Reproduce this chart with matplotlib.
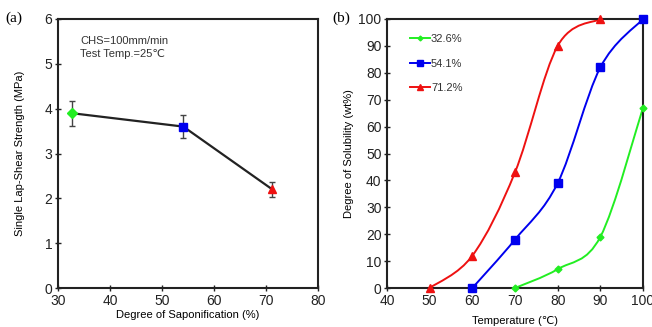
import numpy as np
import matplotlib
matplotlib.use("Agg")
import matplotlib.pyplot as plt
from matplotlib.path import Path
from matplotlib.patches import PathPatch
from matplotlib.lines import Line2D

plt.rcParams['font.family'] = ['Liberation Sans', 'DejaVu Sans']

# (a) lap-shear strength vs degree of saponification
sap = [32.6, 54.1, 71.2]
strength = [3.9, 3.6, 2.2]
strength_err = [0.28, 0.26, 0.16]
point_colors = ['#22ee22', '#0000ee', '#ee1111']
point_markers = ['D', 's', '^']

# (b) solubility vs temperature
labels = ['32.6%', '54.1%', '71.2%']
temps = [[70, 80, 90, 100],
         [60, 70, 80, 90, 100],
         [50, 60, 70, 80, 90]]
solub = [[0, 7, 19, 67],
         [0, 18, 39, 82, 100],
         [0, 12, 43, 90, 100]]
line_colors = ['#22ee22', '#0000ee', '#ee1111']
line_markers = ['D', 's', '^']
msizes = [3.5, 5.5, 5.5]


def smooth_path(x, y, t=0.5):
    # Catmull-Rom style bezier through data points
    x = np.asarray(x, float)
    y = np.asarray(y, float)
    verts = [(x[0], y[0])]
    codes = [Path.MOVETO]
    n = len(x)
    for i in range(n - 1):
        i0 = max(i - 1, 0)
        i3 = min(i + 2, n - 1)
        c1 = (x[i] + (x[i + 1] - x[i0]) * t / 3, y[i] + (y[i + 1] - y[i0]) * t / 3)
        c2 = (x[i + 1] - (x[i3] - x[i]) * t / 3, y[i + 1] - (y[i3] - y[i]) * t / 3)
        verts += [c1, c2, (x[i + 1], y[i + 1])]
        codes += [Path.CURVE4] * 3
    return Path(verts, codes)


fig = plt.figure(figsize=(6.52, 3.27), dpi=100)
ax1 = fig.add_axes([58 / 652, 1 - 288 / 327, 260 / 652, 269 / 327])
ax2 = fig.add_axes([387 / 652, 1 - 288 / 327, 256 / 652, 269 / 327])

frame = '#222222'
for ax in (ax1, ax2):
    for s in ax.spines.values():
        s.set_linewidth(1.5)
        s.set_color(frame)
    ax.tick_params(direction='inout', length=4, width=1, labelsize=10,
                   colors=frame, labelcolor='#222222', pad=2)

# panel a
ax1.plot(sap, strength, color='#222222', lw=1.6, zorder=2)
for xi, yi, ei, c, m in zip(sap, strength, strength_err, point_colors, point_markers):
    ax1.errorbar(xi, yi, yerr=ei, fmt=m, color=c, ms=6 if m != 'D' else 5,
                 ecolor='#444444', elinewidth=1, capsize=2.5, capthick=1, zorder=3)
ax1.set_xlim(30, 80)
ax1.set_ylim(0, 6)
ax1.set_xticks([30, 40, 50, 60, 70, 80])
ax1.set_yticks([0, 1, 2, 3, 4, 5, 6])
ax1.set_xlabel('Degree of Saponification (%)', fontsize=8, labelpad=2)
ax1.set_ylabel('Single Lap-Shear Strength (MPa)', fontsize=8, labelpad=14)
ax1.text(0.085, 0.935, 'CHS=100mm/min\nTest Temp.=25\u2103', transform=ax1.transAxes,
         fontsize=8, va='top', ha='left', color='#333333', linespacing=1.3)
fig.text(5 / 652, 1 - 18 / 327, '(a)', fontsize=11, family='Liberation Serif',
         va='center', ha='left')

# panel b
handles = []
for x, y, c, m, ms, lab in zip(temps, solub, line_colors, line_markers, msizes, labels):
    ax2.add_patch(PathPatch(smooth_path(x, y), fill=False, edgecolor=c, lw=1.4,
                            zorder=2, clip_on=False))
    ax2.plot(x, y, m, color=c, ms=ms, zorder=3, clip_on=False)
    handles.append(Line2D([], [], color=c, lw=1.4, marker=m, ms=ms * 0.7, label=lab))
ax2.set_xlim(40, 100)
ax2.set_ylim(0, 100)
ax2.set_xticks([40, 50, 60, 70, 80, 90, 100])
ax2.set_yticks(range(0, 101, 10))
ax2.set_xlabel('Temperature (\u2103)', fontsize=8, labelpad=6)
ax2.set_ylabel('Degree of Solubility (wt%)', fontsize=8, labelpad=3)
ax2.legend(handles=handles, loc='upper left', bbox_to_anchor=(0.05, 0.98),
           frameon=False, fontsize=8, handlelength=1.8, handletextpad=0.1,
           labelspacing=1.3, labelcolor='#333333')
fig.text(332 / 652, 1 - 18 / 327, '(b)', fontsize=11, family='Liberation Serif',
         va='center', ha='left')

fig.savefig('out.png', dpi=100)
